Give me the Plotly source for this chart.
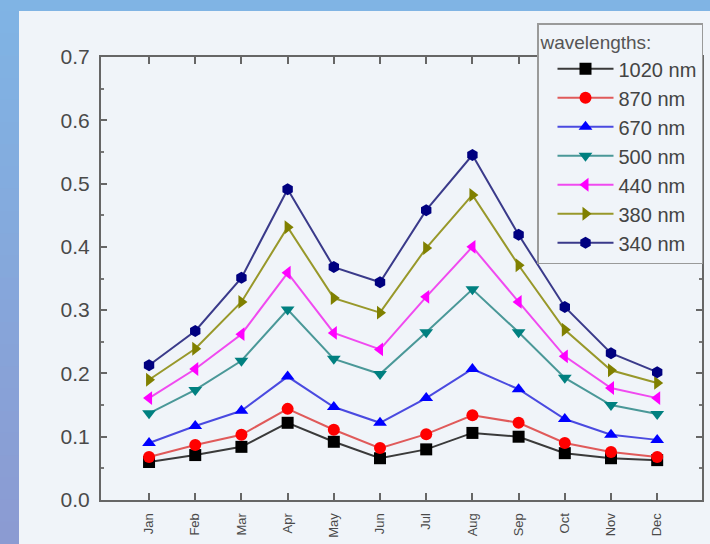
import plotly.graph_objects as go

months = ["Jan", "Feb", "Mar", "Apr", "May", "Jun", "Jul", "Aug", "Sep", "Oct", "Nov", "Dec"]
x_pos = [1, 2, 3, 4, 5, 6, 7, 8, 9, 10, 11, 12]

v1020 = [0.060, 0.071, 0.084, 0.122, 0.092, 0.066, 0.080, 0.106, 0.100, 0.074, 0.066, 0.063]
v870 = [0.068, 0.087, 0.103, 0.144, 0.111, 0.082, 0.104, 0.134, 0.122, 0.090, 0.076, 0.068]
v670 = [0.090, 0.117, 0.141, 0.195, 0.147, 0.122, 0.161, 0.207, 0.175, 0.128, 0.103, 0.095]
v500 = [0.137, 0.174, 0.220, 0.301, 0.223, 0.199, 0.265, 0.333, 0.265, 0.193, 0.150, 0.136]
v440 = [0.161, 0.207, 0.262, 0.359, 0.264, 0.238, 0.321, 0.400, 0.313, 0.227, 0.177, 0.161]
v380 = [0.190, 0.239, 0.313, 0.431, 0.319, 0.296, 0.398, 0.482, 0.371, 0.269, 0.205, 0.185]
v340 = [0.213, 0.267, 0.351, 0.491, 0.368, 0.344, 0.458, 0.545, 0.419, 0.305, 0.232, 0.202]

series_names = ["1020 nm", "870 nm", "670 nm", "500 nm", "440 nm", "380 nm", "340 nm"]
series_vals = [v1020, v870, v670, v500, v440, v380, v340]
colors = ["#000000", "#ff0000", "#0000ff", "#008080", "#ff00ff", "#808000", "#000080"]
line_colors = ["#3a3a3a", "#e05a5a", "#4a4ae0", "#4a9898", "#f04af0", "#98982a", "#3a3a8a"]
symbols = ["square", "circle", "triangle-up", "triangle-down", "triangle-left", "triangle-right", "hexagon"]

W, H = 710, 544
L, R, T, B = 101, 8, 57, 44
pw, ph = W - L - R, H - T - B

def px(xp):
    return (xp - L) / pw

def py(yp):
    return (H - B - yp) / ph

PANEL = "#f0f4f9"
FONT = "Arial, Liberation Sans, sans-serif"
fig = go.Figure()

for name, vals, c, lc, s in zip(series_names, series_vals, colors, line_colors, symbols):
    fig.add_trace(go.Scatter(
        x=x_pos, y=vals, name=name, mode="lines+markers",
        line=dict(color=lc, width=2),
        marker=dict(symbol=s, size=12, color=c, line=dict(width=0)),
        cliponaxis=False,
    ))

shapes = []
# panel
shapes.append(dict(type="rect", xref="paper", yref="paper", layer="below",
                   x0=px(19), x1=px(W + 5), y0=py(H + 5), y1=py(11),
                   fillcolor=PANEL, line=dict(width=0)))
# left strip gradient
top_c = (0x80, 0xb3, 0xe4)
bot_c = (0x8b, 0x9b, 0xd2)
n = 24
for i in range(n):
    f = i / (n - 1)
    col = tuple(int(round(top_c[k] + (bot_c[k] - top_c[k]) * f)) for k in range(3))
    y0p = 11 + (H - 11) * i / n
    y1p = 11 + (H - 11) * (i + 1) / n
    shapes.append(dict(type="rect", xref="paper", yref="paper", layer="below",
                       x0=px(-2), x1=px(19), y0=py(y1p + 1), y1=py(y0p),
                       fillcolor="rgb(%d,%d,%d)" % col, line=dict(width=0)))

axis_font = dict(family=FONT, size=21, color="#4a4a4a")

fig.update_layout(
    width=W, height=H,
    margin=dict(l=L, r=R, t=T, b=B, autoexpand=False),
    paper_bgcolor="#80b4e4",
    plot_bgcolor="rgba(0,0,0,0)",
    shapes=shapes,
    showlegend=True,
    legend=dict(
        x=px(537), xanchor="left", y=py(23), yanchor="top",
        bgcolor=PANEL, bordercolor="#9a9a9a", borderwidth=1.5,
        font=dict(family=FONT, size=20, color="#444444"),
        title=dict(text="wavelengths:", font=dict(family=FONT, size=19, color="#555555")),
        itemwidth=56, tracegroupgap=0, indentation=14,
    ),
    xaxis=dict(
        range=[-0.04, 12.97], tickmode="array", tickvals=x_pos, ticktext=months,
        tickangle=-90, ticks="inside", ticklen=7, tickwidth=1.5, tickcolor="#666666",
        showline=True, linecolor="#666666", linewidth=2, mirror="ticks",
        showgrid=False, zeroline=False,
        tickfont=dict(family=FONT, size=13, color="#4a4a4a"),
        ticklabelstandoff=6,
    ),
    yaxis=dict(
        range=[0, 0.7], tickmode="linear", tick0=0, dtick=0.1, tickformat=".1f",
        ticks="inside", ticklen=6, tickwidth=1.5, tickcolor="#666666",
        showline=True, linecolor="#666666", linewidth=2, mirror="ticks",
        showgrid=False, zeroline=False, tickfont=axis_font, ticklabelstandoff=5,
        minor=dict(dtick=0.05, ticks="inside", ticklen=3, tickcolor="#777777", tickwidth=1.5, showgrid=False),
    ),
)

fig.write_html(
    "out.html",
    config={"displayModeBar": False},
    post_script="document.body.style.margin='0';document.body.style.overflow='hidden';",
)
